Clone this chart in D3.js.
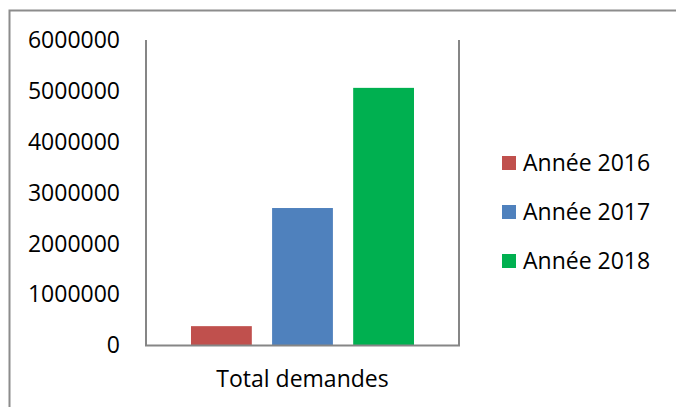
<!DOCTYPE html>
<html><head><meta charset="utf-8">
<script src="https://cdn.jsdelivr.net/npm/d3@7"></script>
<style>body{margin:0;background:#fff}svg{display:block}text{font-family:"Open Sans",sans-serif;fill:#000}</style>
</head><body>
<svg id="c" width="676" height="407"></svg>
<script>
const categories = ["Total demandes"];
const seriesNames = ["Année 2016", "Année 2017", "Année 2018"];
const seriesValues = [380000, 2700000, 5060000];
const seriesColors = ["#C0504D", "#4F81BD", "#00B050"];
const yTicks = [0, 1000000, 2000000, 3000000, 4000000, 5000000, 6000000];

const svg = d3.select("#c");
const W = 676, H = 407;
const plot = {left: 146, right: 459, top: 40, bottom: 345.5};
const fs = 23;

// outer frame
svg.append("rect").attr("x", 9.5).attr("y", 10.5).attr("width", W + 10).attr("height", H + 10)
  .attr("fill", "none").attr("stroke", "#8c8c8c").attr("stroke-width", 2);

const y = d3.scaleLinear().domain([0, 6000000]).range([plot.bottom, plot.top]);
const x0 = d3.scaleBand().domain(categories).range([plot.left, plot.right]).paddingInner(0).paddingOuter(0);
const x1 = d3.scaleBand().domain(seriesNames).range([45, x0.bandwidth() - 45]).paddingInner(0.25).paddingOuter(0);

// bars
const g = svg.append("g");
categories.forEach(cat => {
  g.selectAll("rect.bar").data(seriesNames.map((s, i) => ({s, v: seriesValues[i], c: seriesColors[i]})))
    .enter().append("rect")
    .attr("x", d => x0(cat) + x1(d.s))
    .attr("width", x1.bandwidth())
    .attr("y", d => y(d.v))
    .attr("height", d => y(0) - y(d.v))
    .attr("fill", d => d.c);
});

// y axis labels
const yAxis = d3.axisLeft(y).tickValues(yTicks).tickSize(0).tickPadding(26).tickFormat(d3.format("d"));
const ya = svg.append("g").attr("transform", `translate(${plot.left},0)`).call(yAxis);
ya.select(".domain").remove();
ya.selectAll("text").attr("font-size", fs).attr("font-family", "Open Sans, sans-serif").attr("fill", "#000");

// plot frame lines: left, bottom, right
svg.append("path")
  .attr("d", `M${plot.left},${plot.top}V${plot.bottom}H${plot.right}V${plot.top}`)
  .attr("fill", "none").attr("stroke", "#868686").attr("stroke-width", 2);

// x axis label
const xAxis = d3.axisBottom(x0).tickSize(0).tickPadding(25);
const xa = svg.append("g").attr("transform", `translate(0,${plot.bottom})`).call(xAxis);
xa.select(".domain").remove();
xa.selectAll("text").attr("font-size", fs).attr("font-family", "Open Sans, sans-serif").attr("fill", "#000");

// legend
const legY = [163, 212, 261];
const leg = svg.append("g");
seriesNames.forEach((s, i) => {
  leg.append("rect").attr("x", 502).attr("y", legY[i] - 7).attr("width", 14).attr("height", 14).attr("fill", seriesColors[i]);
  leg.append("text").attr("x", 523).attr("y", legY[i]).attr("dy", "0.36em")
    .attr("font-size", fs).text(s);
});
</script>
</body></html>
